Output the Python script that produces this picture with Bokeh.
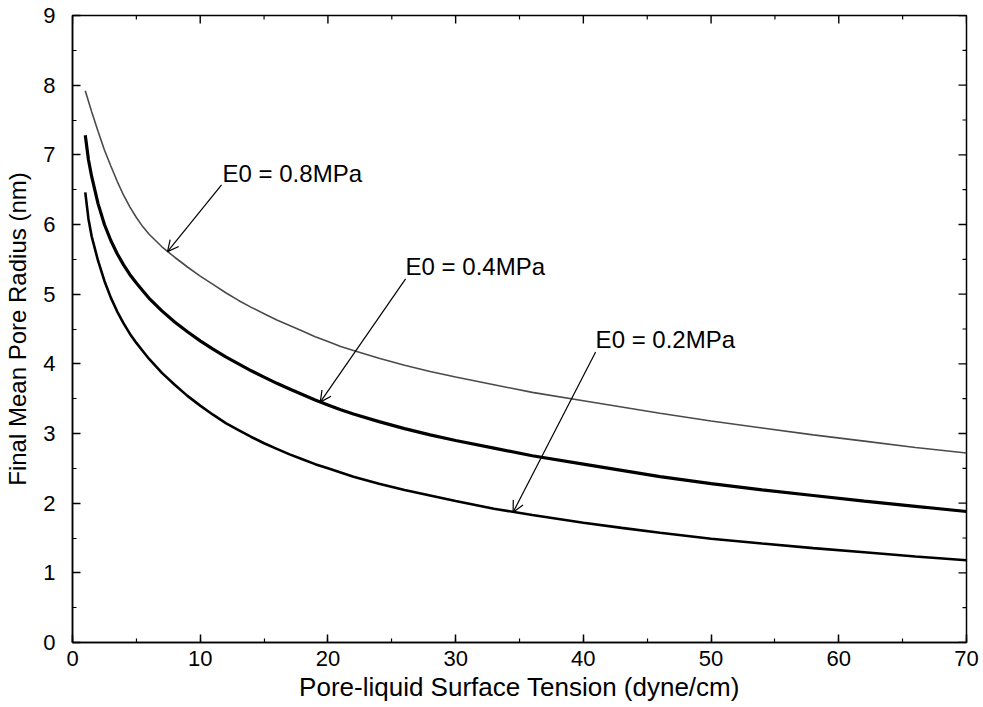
import math
from bokeh.plotting import figure
from bokeh.models import (Range1d, SingleIntervalTicker, Arrow, OpenHead, ColumnDataSource)
from bokeh.core.properties import value
from bokeh.embed import file_html
from bokeh.resources import INLINE

# Pore-liquid surface tension (dyne/cm)
tension = [1, 1.25, 1.5, 2, 2.5, 3, 3.5, 4, 4.5, 5, 5.5, 6, 7, 8, 9, 10, 11, 12, 13, 14, 15, 16, 17,
           18, 19, 20, 21, 22, 24, 26, 28, 30, 33, 36, 40, 43, 46, 50, 54, 58, 62, 66, 70]
# Final mean pore radius (nm) for each initial modulus
radius_e08 = [7.92, 7.77, 7.62, 7.34, 7.07, 6.84, 6.62, 6.42, 6.25, 6.10, 5.97, 5.86, 5.68, 5.53,
              5.39, 5.26, 5.14, 5.02, 4.91, 4.81, 4.72, 4.63, 4.55, 4.47, 4.39, 4.32, 4.25, 4.19,
              4.08, 3.98, 3.89, 3.81, 3.70, 3.59, 3.47, 3.38, 3.29, 3.18, 3.08, 2.98, 2.89, 2.80, 2.72]
radius_e04 = [7.28, 6.93, 6.69, 6.30, 6.00, 5.77, 5.58, 5.42, 5.28, 5.16, 5.05, 4.94, 4.76, 4.60,
              4.46, 4.33, 4.21, 4.10, 4.00, 3.90, 3.81, 3.72, 3.64, 3.56, 3.48, 3.41, 3.34, 3.28,
              3.17, 3.07, 2.98, 2.90, 2.79, 2.68, 2.56, 2.47, 2.38, 2.28, 2.19, 2.11, 2.03, 1.955, 1.88]
radius_e02 = [6.46, 6.08, 5.83, 5.48, 5.19, 4.95, 4.75, 4.58, 4.43, 4.30, 4.185, 4.07, 3.87, 3.70,
              3.54, 3.40, 3.27, 3.15, 3.05, 2.95, 2.86, 2.78, 2.70, 2.63, 2.56, 2.50, 2.44, 2.38,
              2.28, 2.19, 2.11, 2.03, 1.92, 1.83, 1.72, 1.645, 1.575, 1.49, 1.42, 1.355, 1.295, 1.235,
              1.18]

# Annotations
labels = ["E0 = 0.8MPa", "E0 = 0.4MPa", "E0 = 0.2MPa"]
label_x = [11.75, 26.08, 40.96]
label_y = [6.73, 5.39, 4.35]
arrow_start_x = [11.67, 26.08, 40.96]
arrow_start_y = [6.57, 5.22, 4.17]
arrow_tip_x = [7.44, 19.4, 34.5]
arrow_tip_y = [5.61, 3.45, 1.87]

# Mirror tick positions (top and right frame edges)
x_major_ticks = [0, 10, 20, 30, 40, 50, 60, 70]
x_minor_ticks = [5, 15, 25, 35, 45, 55, 65]
y_major_ticks = [0, 1, 2, 3, 4, 5, 6, 7, 8, 9]
y_minor_ticks = [0.5, 1.5, 2.5, 3.5, 4.5, 5.5, 6.5, 7.5, 8.5]
X_MAX = 70
Y_MAX = 9

FONT = "Liberation Sans"

p = figure(width=983, height=707, output_backend="svg", toolbar_location=None,
           x_range=Range1d(0, X_MAX), y_range=Range1d(0, Y_MAX),
           min_border_left=72, min_border_right=17, min_border_top=15, min_border_bottom=65,
           x_axis_label="Pore-liquid Surface Tension (dyne/cm)",
           y_axis_label="Final Mean Pore Radius (nm)")
p.background_fill_color = "white"
p.border_fill_color = "white"
p.outline_line_color = "black"
p.outline_line_width = 1.5
p.xgrid.visible = False
p.ygrid.visible = False

p.xaxis.ticker = SingleIntervalTicker(interval=10, num_minor_ticks=2)
p.yaxis.ticker = SingleIntervalTicker(interval=1, num_minor_ticks=2)

for ax in [p.xaxis[0], p.yaxis[0]]:
    ax.major_tick_in = 8
    ax.major_tick_out = 0
    ax.minor_tick_in = 4
    ax.minor_tick_out = 0
    ax.axis_line_width = 1.5
    ax.major_tick_line_width = 1.5
    ax.minor_tick_line_width = 1.2
    ax.major_label_text_font = FONT
    ax.major_label_text_font_size = "22px"
    ax.major_label_text_color = "black"
    ax.axis_label_text_font = FONT
    ax.axis_label_text_font_style = "normal"
    ax.axis_label_text_color = "black"

p.xaxis.axis_label_text_font_size = "26px"
p.yaxis.axis_label_text_font_size = "24px"
p.xaxis.major_label_standoff = 8
p.xaxis.axis_label_standoff = 3
p.yaxis.major_label_standoff = 17
p.yaxis.axis_label_standoff = 9

# mirror ticks on the right and top frame edges, pointing inwards
p.ray(x=[X_MAX] * len(y_major_ticks), y=y_major_ticks, length=8, length_units="screen",
      angle=math.pi, line_color="black", line_width=1.4)
p.ray(x=[X_MAX] * len(y_minor_ticks), y=y_minor_ticks, length=4, length_units="screen",
      angle=math.pi, line_color="black", line_width=1.2)
p.ray(x=x_major_ticks, y=[Y_MAX] * len(x_major_ticks), length=8, length_units="screen",
      angle=-math.pi / 2, line_color="black", line_width=1.4)
p.ray(x=x_minor_ticks, y=[Y_MAX] * len(x_minor_ticks), length=4, length_units="screen",
      angle=-math.pi / 2, line_color="black", line_width=1.2)

p.line(tension, radius_e08, line_color="#4a4a4a", line_width=1.6)
p.line(tension, radius_e04, line_color="black", line_width=3.2)
p.line(tension, radius_e02, line_color="black", line_width=2.6)

src = ColumnDataSource(dict(x=label_x, y=label_y, text=labels))
p.text(x="x", y="y", text="text", source=src, text_font=value(FONT),
       text_font_size="24px", text_align="left", text_baseline="middle", text_color="black")

asrc = ColumnDataSource(dict(xs=arrow_start_x, ys=arrow_start_y, xe=arrow_tip_x, ye=arrow_tip_y))
p.add_layout(Arrow(source=asrc, x_start="xs", y_start="ys", x_end="xe", y_end="ye",
                   line_width=1.2, line_color="black",
                   end=OpenHead(size=11, line_width=1.2, line_color="black")))

open("out.html", "w").write(file_html(p, INLINE))
